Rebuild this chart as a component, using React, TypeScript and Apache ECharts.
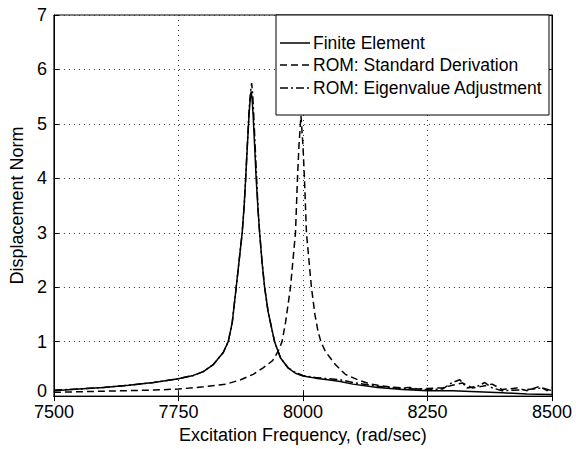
import React, { useEffect, useRef } from "react";
import * as echarts from "echarts";

const FONT = "'Liberation Sans', Arial, Helvetica, sans-serif";

const xTicks = [7500, 7750, 8000, 8250, 8500];
const yTicks = [0, 1, 2, 3, 4, 5, 6, 7];

const seriesNames = [
  "Finite Element",
  "ROM: Standard Derivation",
  "ROM: Eigenvalue Adjustment",
];

const freqFE = [7500, 7550, 7600, 7650, 7700, 7750, 7780, 7800, 7820, 7840, 7850, 7858, 7866, 7872, 7878, 7882, 7885, 7889, 7892, 7894, 7896, 7898, 7900, 7903, 7906, 7910, 7913, 7918, 7923, 7930, 7943, 7955, 7970, 7985, 8000, 8025, 8050, 8075, 8100, 8150, 8200, 8250, 8300, 8350, 8400, 8450, 8500];
const valFE = [0.10, 0.13, 0.16, 0.20, 0.25, 0.32, 0.38, 0.45, 0.58, 0.80, 1.00, 1.35, 2.00, 2.50, 3.00, 3.50, 4.00, 4.70, 5.20, 5.45, 5.60, 5.45, 5.15, 4.60, 4.00, 3.40, 3.00, 2.45, 2.00, 1.55, 1.00, 0.70, 0.52, 0.42, 0.37, 0.33, 0.30, 0.27, 0.22, 0.16, 0.12, 0.10, 0.10, 0.08, 0.06, 0.04, 0.03];

const freqSD = [7500, 7550, 7600, 7650, 7700, 7750, 7800, 7846, 7875, 7900, 7920, 7939, 7950, 7958, 7965, 7975, 7980, 7985, 7989, 7992, 7996, 8000, 8003, 8007, 8012, 8017, 8024, 8030, 8036, 8045, 8065, 8085, 8110, 8132, 8150, 8172, 8200, 8215, 8230, 8250, 8280, 8300, 8320, 8340, 8360, 8380, 8400, 8430, 8450, 8475, 8490, 8500];
const valSD = [0.07, 0.08, 0.09, 0.10, 0.11, 0.13, 0.17, 0.22, 0.30, 0.40, 0.52, 0.65, 0.82, 1.00, 1.35, 2.00, 2.50, 3.00, 4.00, 4.60, 5.15, 4.60, 4.00, 3.00, 2.50, 2.00, 1.50, 1.20, 1.00, 0.82, 0.58, 0.40, 0.30, 0.23, 0.20, 0.17, 0.15, 0.16, 0.13, 0.14, 0.15, 0.20, 0.24, 0.15, 0.18, 0.22, 0.12, 0.15, 0.10, 0.18, 0.10, 0.15];

const freqEA = [7500, 7550, 7600, 7650, 7700, 7750, 7780, 7800, 7820, 7840, 7850, 7858, 7866, 7872, 7878, 7882, 7885, 7889, 7892, 7895, 7897, 7899, 7901, 7904, 7907, 7910, 7913, 7918, 7923, 7930, 7943, 7955, 7970, 7985, 8000, 8025, 8050, 8075, 8100, 8150, 8200, 8250, 8280, 8300, 8315, 8330, 8350, 8365, 8380, 8400, 8450, 8480, 8500];
const valEA = [0.11, 0.13, 0.16, 0.20, 0.25, 0.32, 0.38, 0.45, 0.58, 0.80, 1.00, 1.35, 2.00, 2.50, 3.00, 3.50, 4.00, 4.75, 5.30, 5.60, 5.75, 5.55, 5.20, 4.60, 4.00, 3.40, 3.00, 2.45, 2.00, 1.55, 1.00, 0.70, 0.52, 0.43, 0.38, 0.34, 0.32, 0.30, 0.25, 0.18, 0.14, 0.12, 0.13, 0.25, 0.30, 0.15, 0.18, 0.25, 0.15, 0.10, 0.12, 0.15, 0.10];

const lineTypes: any[] = ["solid", [7, 4], [8, 3, 2, 3]];

export default function App() {
  const ref = useRef<HTMLDivElement>(null);
  useEffect(() => {
    if (!ref.current) return;
    const chart = echarts.init(ref.current, undefined, { renderer: "svg" });
    const pairs = (xs: number[], ys: number[]) => xs.map((x, i) => [x, ys[i]]);
    const datasets = [pairs(freqFE, valFE), pairs(freqSD, valSD), pairs(freqEA, valEA)];
    const tickStyle = { show: true, inside: true, length: 5, lineStyle: { color: "#000", width: 1 } };
    const dotted = { show: true, lineStyle: { color: "#333", width: 1, type: [1, 4] as any } };

    // legend box drawn as graphic
    const lx = 276, ly = 15, lw = 273, lh = 100;
    const rowY = [43, 65, 88];
    const legendEls: any[] = [
      { type: "rect", shape: { x: lx, y: ly, width: lw, height: lh }, style: { fill: "#fff", stroke: "#000", lineWidth: 1 }, z: 10 },
    ];
    seriesNames.forEach((name, i) => {
      const t = lineTypes[i];
      legendEls.push({
        type: "line", shape: { x1: lx + 4, y1: rowY[i], x2: lx + 34, y2: rowY[i] },
        style: { stroke: "#000", lineWidth: 1.5, lineDash: t === "solid" ? null : t }, z: 11,
      });
      legendEls.push({
        type: "text", x: lx + 37, y: rowY[i],
        style: { text: name, fill: "#000", font: `17.5px ${FONT}`, textVerticalAlign: "middle", verticalAlign: "middle" }, z: 11,
      });
    });

    chart.setOption({
      animation: false,
      backgroundColor: "#fff",
      grid: { left: 49, right: 24, top: 15, bottom: 47, show: true, borderColor: "#000", borderWidth: 1, backgroundColor: "transparent" },
      xAxis: [
        {
          type: "value", min: xTicks[0], max: xTicks[xTicks.length - 1], interval: 250,
          name: "Excitation Frequency, (rad/sec)", nameLocation: "middle", nameGap: 27,
          nameTextStyle: { fontSize: 18, color: "#000", fontFamily: FONT },
          axisLine: { show: true, lineStyle: { color: "#000", width: 1 } },
          axisTick: tickStyle, splitLine: dotted,
          axisLabel: { fontSize: 18, color: "#000", fontFamily: FONT, margin: 7, formatter: (v: number) => String(v) },
        },
        {
          type: "value", position: "top", min: 7500, max: 8500, interval: 250,
          axisLine: { show: true, lineStyle: { color: "#000" } }, axisTick: tickStyle,
          axisLabel: { show: false }, splitLine: { show: false },
        },
      ],
      yAxis: [
        {
          type: "value", min: yTicks[0], max: yTicks[yTicks.length - 1], interval: 1,
          name: "Displacement Norm", nameLocation: "middle", nameGap: 20,
          nameTextStyle: { fontSize: 18, color: "#000", fontFamily: FONT },
          axisLine: { show: true, lineStyle: { color: "#000", width: 1 } },
          axisTick: tickStyle, splitLine: dotted,
          axisLabel: {
            fontSize: 18, color: "#000", fontFamily: FONT, margin: 7,
            formatter: (v: number) => (v === 0 ? "{z|0}" : String(v)),
            rich: { z: { fontSize: 18, color: "#000", fontFamily: FONT, padding: [0, 0, 10, 0] } },
          },
        },
        {
          type: "value", position: "right", min: 0, max: 7, interval: 1,
          axisLine: { show: true, lineStyle: { color: "#000" } }, axisTick: tickStyle,
          axisLabel: { show: false }, splitLine: { show: false },
        },
      ],
      graphic: legendEls,
      series: seriesNames.map((name, i) => ({
        name, type: "line", data: datasets[i], showSymbol: false, symbol: "none",
        lineStyle: { color: "#000", width: 1.5, type: lineTypes[i] },
        itemStyle: { color: "#000" },
        z: 3 - i,
      })),
    });
    return () => chart.dispose();
  }, []);
  return <div ref={ref} style={{ width: 576, height: 449, position: "absolute", left: 0, top: 0 }} />;
}
